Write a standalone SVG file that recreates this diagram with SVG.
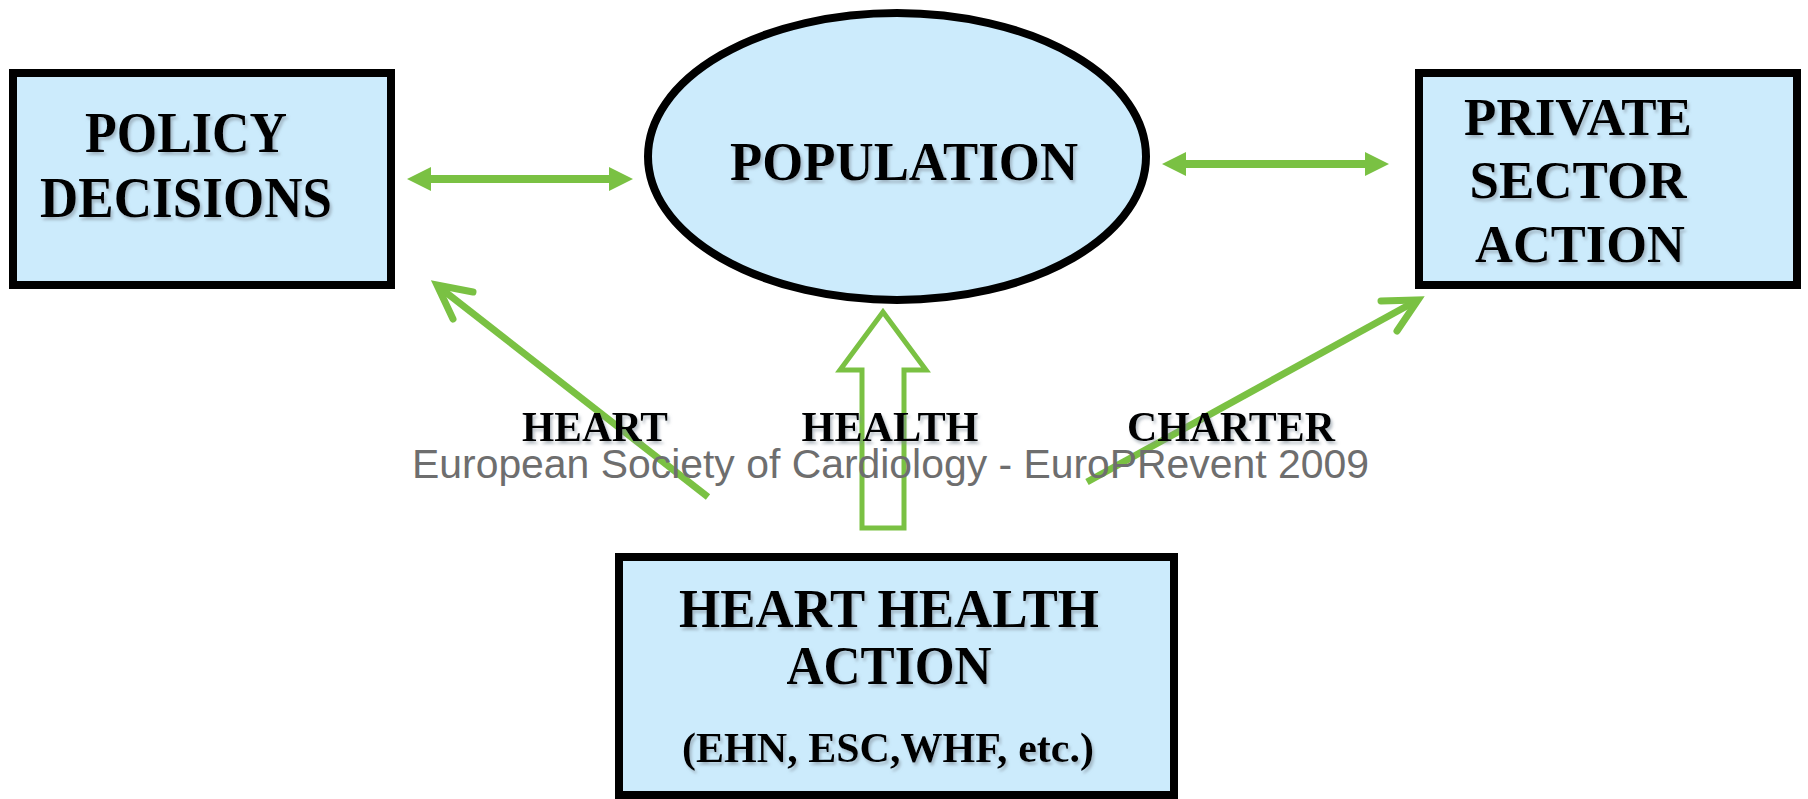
<svg xmlns="http://www.w3.org/2000/svg" width="1808" height="799" viewBox="0 0 1808 799">
<style>
.box{fill:#CCEBFC;stroke:#000;stroke-width:8}
.t{font-family:"Liberation Serif","Times New Roman",serif;font-weight:bold;fill:#000;text-anchor:middle;filter:url(#sh)}
.lbl{font-family:"Liberation Serif","Times New Roman",serif;font-weight:bold;font-size:42px;fill:#000;text-anchor:middle;filter:url(#sh)}
.g{fill:#7AC143}
.ln{stroke:#7AC143;stroke-width:7;fill:none}
.arm{stroke:#7AC143;stroke-width:7;fill:none;stroke-linecap:round}
.wm{font-family:"Liberation Sans",Arial,sans-serif;font-size:40px;fill:#6E6E6E}
</style>
<defs>
<filter id="sh" x="-10%" y="-20%" width="120%" height="150%">
<feDropShadow dx="2" dy="3" stdDeviation="1.5" flood-color="#7f8c99" flood-opacity="0.55"/>
</filter>
</defs>
<rect width="1808" height="799" fill="#fff"/>
<g id="connectors">
<polygon class="g" points="407,179 431,167 431,175 609,175 609,167 633,179 609,191 609,183 431,183 431,191"/>
<polygon class="g" points="1162,164 1186,152 1186,160 1365,160 1365,152 1389,164 1365,176 1365,168 1186,168 1186,176"/>
<line class="ln" x1="708" y1="497" x2="439" y2="287"/>
<polyline class="arm" points="473,292 437,285 453,319"/>
<line class="ln" x1="1087" y1="482" x2="1416" y2="301"/>
<polyline class="arm" points="1381,301 1418,300 1397,331"/>
<polygon points="883,312 926,370 904,370 904,528 862,528 862,370 840,370" fill="#fff" stroke="#7AC143" stroke-width="5" stroke-linejoin="miter"/>
</g>
<g id="policy">
<rect class="box" x="13" y="73" width="378" height="212"/>
<text class="t" font-size="56" x="186" y="152" textLength="202" lengthAdjust="spacingAndGlyphs">POLICY</text>
<text class="t" font-size="56" x="186" y="217" textLength="292" lengthAdjust="spacingAndGlyphs">DECISIONS</text>
</g>
<g id="population">
<ellipse cx="897" cy="156.5" rx="249" ry="143.5" fill="#CCEBFC" stroke="#000" stroke-width="8"/>
<text class="t" font-size="54" x="904" y="180" textLength="348" lengthAdjust="spacingAndGlyphs">POPULATION</text>
</g>
<g id="private">
<rect class="box" x="1419" y="73" width="378" height="212"/>
<text class="t" font-size="53" x="1578" y="135" textLength="228" lengthAdjust="spacingAndGlyphs">PRIVATE</text>
<text class="t" font-size="53" x="1578" y="198" textLength="217" lengthAdjust="spacingAndGlyphs">SECTOR</text>
<text class="t" font-size="53" x="1580" y="262" textLength="210" lengthAdjust="spacingAndGlyphs">ACTION</text>
</g>
<g id="heart-health-action">
<rect class="box" x="619" y="557" width="555" height="238"/>
<text class="t" font-size="54" x="889" y="627" textLength="420" lengthAdjust="spacingAndGlyphs">HEART HEALTH</text>
<text class="t" font-size="54" x="889" y="684" textLength="205" lengthAdjust="spacingAndGlyphs">ACTION</text>
<text class="t" font-size="42" x="888" y="762" textLength="412" lengthAdjust="spacingAndGlyphs">(EHN, ESC,WHF, etc.)</text>
</g>
<g id="labels">
<text class="lbl" x="595" y="441" textLength="146" lengthAdjust="spacingAndGlyphs">HEART</text>
<text class="lbl" x="890" y="441" textLength="177" lengthAdjust="spacingAndGlyphs">HEALTH</text>
<text class="lbl" x="1231" y="441" textLength="208" lengthAdjust="spacingAndGlyphs">CHARTER</text>
</g>
<text class="wm" x="412" y="478" textLength="957" lengthAdjust="spacingAndGlyphs">European Society of Cardiology - EuroPRevent 2009</text>
</svg>
